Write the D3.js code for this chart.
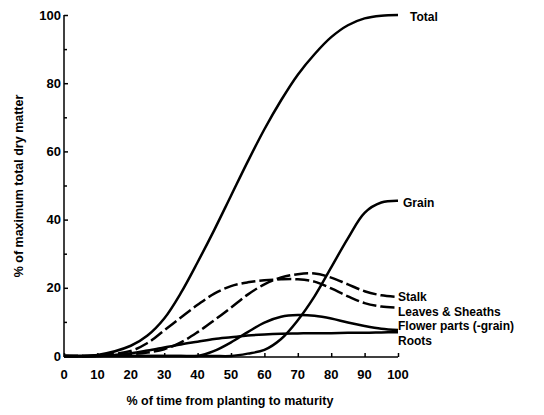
<!DOCTYPE html>
<html><head><meta charset="utf-8">
<script src="https://cdn.jsdelivr.net/npm/d3@7"></script>
<style>body{margin:0;background:#fff}svg{display:block}text{font-family:"Liberation Sans",Arial,sans-serif;font-weight:bold;fill:#000}</style>
</head><body>
<script>
const time = [0,10,20,25,30,35,40,45,50,55,60,65,70,75,80,85,90,95,100];
const total  = [0,0.3,3,6,11,18.5,27.5,37,47,57,66.5,75,82.5,88.5,93.5,97,99,99.8,100];
const grain  = [0,0,0,0,0,0,0,0,0,0.7,1.8,5,10.5,17.5,26,34.5,42,45,45.5];
const stalk  = [0,0,0.5,1,2,4,7,10.5,14.2,18,21,23,24,24.2,23,21,19,17.8,17.3];
const leaves = [0,0.2,1.5,3.8,7.5,11.3,15,18.3,20.5,21.6,22.2,22.5,22.5,21.8,19.8,17.5,15.5,14.5,14.2];
const flower = [0,0,0,0,0,0,0,1.5,4,7,9.8,11.5,12,11.8,11,9.8,8.8,8,7.6];
const roots  = [0,0,0.8,1.6,2.5,3.4,4.2,5,5.5,6,6.3,6.5,6.6,6.7,6.7,6.8,6.8,6.9,7];
const seriesNames = ["Total","Grain","Stalk","Leaves & Sheaths","Flower parts (-grain)","Roots"];
const xTicks = [0,10,20,30,40,50,60,70,80,90,100];
const yTicks = [0,20,40,60,80,100];
const yMinor = [10,30,50,70,90];

const W=544,H=415;
const svg=d3.select("body").append("svg").attr("width",W).attr("height",H);
const x=d3.scaleLinear().domain([0,100]).range([64,398]);
const y=d3.scaleLinear().domain([0,100]).range([356,15]);

const series=[
  {name:seriesNames[0],v:total,dash:null,dx:12,dy:2},
  {name:seriesNames[1],v:grain,dash:null,dx:5,dy:2},
  {name:seriesNames[2],v:stalk,dash:"14,4",dx:0,dy:0},
  {name:seriesNames[3],v:leaves,dash:"14,4",dx:0,dy:4},
  {name:seriesNames[4],v:flower,dash:null,dx:0,dy:-4},
  {name:seriesNames[5],v:roots,dash:null,dx:0,dy:9}
];

// axes
const yAxis=d3.axisRight(y).tickValues(yTicks).tickSize(4).tickFormat("");
const gy=svg.append("g").attr("transform","translate(64,0)").call(yAxis);
gy.select(".domain").attr("stroke-width",1.5).attr("d","M0,15V357");
gy.selectAll(".tick line").attr("stroke-width",1.5);
svg.append("g").attr("transform","translate(64,0)").call(d3.axisRight(y).tickValues(yMinor).tickSize(3).tickFormat(""))
  .call(g=>{g.select(".domain").remove();g.selectAll("line").attr("stroke-width",1.5);});
svg.append("g").selectAll("text").data(yTicks).join("text")
  .attr("x",61).attr("y",d=>y(d)+4.5).attr("text-anchor","end").attr("font-size",13).text(d=>d);

const xAxis=d3.axisTop(x).tickValues(xTicks).tickSize(4).tickFormat("");
const gx=svg.append("g").attr("transform","translate(0,357)").call(xAxis);
gx.select(".domain").attr("stroke-width",1.5).attr("d","M64,0H398");
gx.selectAll(".tick line").attr("stroke-width",1.5);
svg.append("g").selectAll("text").data(xTicks).join("text")
  .attr("x",d=>x(d)).attr("y",379).attr("text-anchor","middle").attr("font-size",13).text(d=>d);

svg.append("text").attr("x",230).attr("y",405).attr("text-anchor","middle").attr("font-size",12.5)
  .text("% of time from planting to maturity");
svg.append("text").attr("transform","translate(23,186) rotate(-90)").attr("text-anchor","middle").attr("font-size",12.5)
  .text("% of maximum total dry matter");

const line=d3.line().x((d,i)=>x(time[i])).y(d=>y(d)).curve(d3.curveCatmullRom.alpha(0.5));
series.forEach(s=>{
  svg.append("path").attr("d",line(s.v)).attr("fill","none").attr("stroke","#000")
    .attr("stroke-width",2.5).attr("stroke-dasharray",s.dash);
  svg.append("text").attr("x",x(100)+s.dx).attr("y",y(s.v[s.v.length-1])+s.dy+4)
    .attr("font-size",12).text(s.name);
});
</script>
</body></html>
